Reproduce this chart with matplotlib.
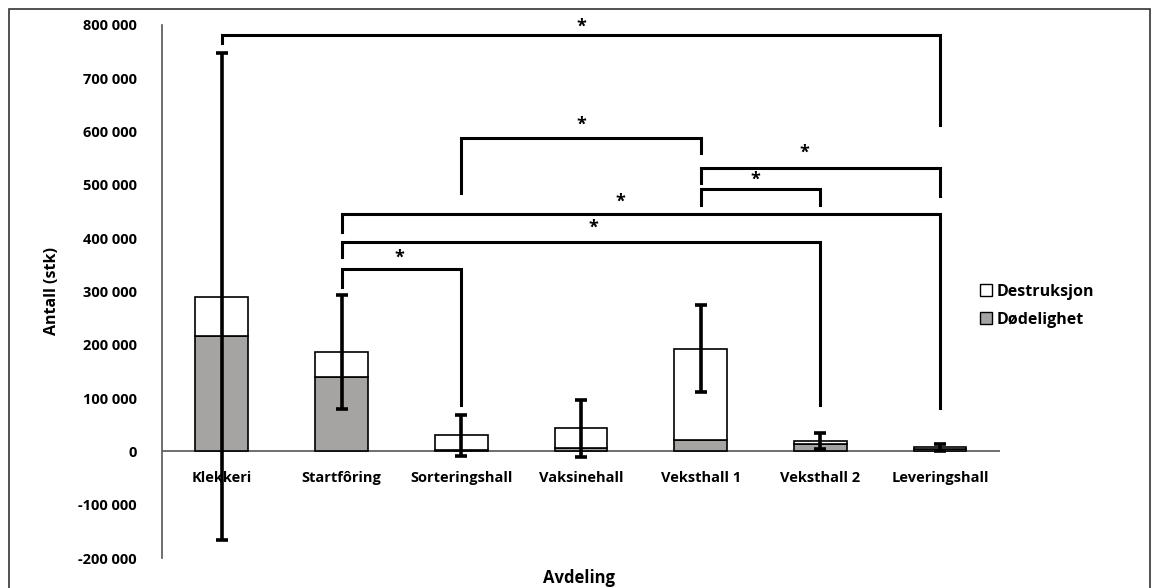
import matplotlib.pyplot as plt
from matplotlib.patches import Patch, Rectangle
import numpy as np

plt.rcParams['font.family'] = ['Open Sans', 'DejaVu Sans']

# data
avdelinger = ["Klekkeri", "Startfôring", "Sorteringshall", "Vaksinehall",
              "Veksthall 1", "Veksthall 2", "Leveringshall"]
dodelighet = [216000, 140000, 3000, 6000, 22000, 14000, 5000]
destruksjon = [74000, 47000, 27000, 37000, 171000, 6000, 2500]
feil = [457000, 107000, 38500, 53500, 82000, 15000, 7000]

# significance brackets: (fra, til, topp, venstre ben, høyre ben, stjerne x)
brakett_fra = [0, 2, 4, 4, 1, 1, 1]
brakett_til = [6, 4, 6, 5, 6, 5, 2]
brakett_topp = [782000, 588000, 532000, 493000, 446000, 393000, 343000]
brakett_venstre = [767000, 485000, 504000, 463000, 412000, 365000, 309000]
brakett_hoyre = [613000, 560000, 480000, 463000, 82000, 88000, 88000]
stjerne_x = [3.0, 3.0, 4.87, 4.46, 3.33, 3.1, 1.48]
stjerne_y = [796000, 612000, 560000, 510000, 468000, 420000, 364000]

fig = plt.figure(figsize=(11.52, 5.88), dpi=100)
ax = fig.add_axes([0.1406, 0.051, 0.868 - 0.1406, 0.9575 - 0.051])

x = np.arange(len(avdelinger))
bredde = 0.44
grey = '#a6a3a3'
ax.bar(x, dodelighet, bredde, color=grey, edgecolor='black', linewidth=1.2, zorder=2)
ax.bar(x, destruksjon, bredde, bottom=dodelighet, color='white',
       edgecolor='black', linewidth=1.2, zorder=2)
total = np.array(dodelighet) + np.array(destruksjon)
ax.errorbar(x, total, yerr=feil, fmt='none', ecolor='black', elinewidth=2.6,
            capsize=4, capthick=2.6, zorder=3)

for a, b, top, lv, hv, sx, sy in zip(brakett_fra, brakett_til, brakett_topp,
                                     brakett_venstre, brakett_hoyre,
                                     stjerne_x, stjerne_y):
    ax.plot([a, a, b, b], [lv, top, top, hv], color='black', lw=2.2,
            solid_joinstyle='miter', zorder=4)
    ax.text(sx, sy, "*", ha='center', va='center',
            fontsize=13, fontweight='bold')

ax.set_xlim(-0.5, len(avdelinger) - 0.5)
ax.set_ylim(-200000, 800000)
ax.axhline(0, color='#555555', lw=1.2, zorder=1)
ticks = np.arange(-200000, 800001, 100000)
ax.set_yticks(ticks)
ax.set_yticklabels([f"{t:,}".replace(",", " ") for t in ticks],
                   fontsize=10.5, fontweight='bold')
ax.tick_params(axis='y', length=0, pad=18)
ax.set_xticks([])
for i, navn in enumerate(avdelinger):
    ax.text(i, -50000, navn, ha='center', va='center', fontsize=10.5,
            fontweight='bold')
for s in ['top', 'right', 'bottom']:
    ax.spines[s].set_visible(False)
ax.spines['left'].set_color('#555555')
ax.spines['left'].set_linewidth(1.2)

fig.text(0.045, 0.505, "Antall (stk)", rotation=90, ha='center', va='center',
         fontsize=11.5, fontweight='bold')
fig.text(0.503, 0.017, "Avdeling", ha='center', va='center', fontsize=12,
         fontweight='bold')

handles = [Patch(facecolor='white', edgecolor='black', label='Destruksjon'),
           Patch(facecolor=grey, edgecolor='black', label='Dødelighet')]
fig.legend(handles=handles, loc='center left', bbox_to_anchor=(0.838, 0.48),
           frameon=False, prop={'weight': 'bold', 'size': 11.5},
           handlelength=0.75, handleheight=0.75, handletextpad=0.3,
           labelspacing=0.75)

fig.patches.append(Rectangle((0.008, -0.01), 0.99, 0.995, transform=fig.transFigure,
                             fill=False, edgecolor='#333333', lw=1.2))

fig.savefig("out.png", dpi=100)
